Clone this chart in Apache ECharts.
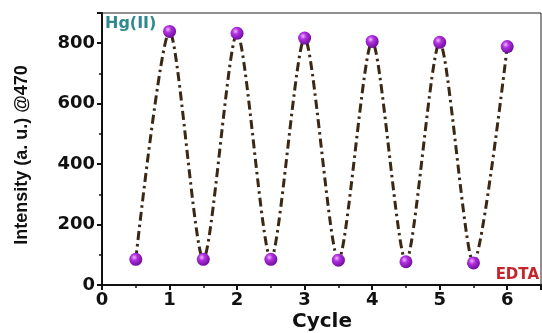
<!DOCTYPE html>
<html>
<head>
<meta charset="utf-8">
<script src="https://cdn.jsdelivr.net/npm/echarts@6/dist/echarts.min.js"></script>
<style>
html,body{margin:0;padding:0;background:#fff;}
#c{width:542px;height:333px;}
</style>
</head>
<body>
<div id="c"></div>
<script>
var cycles = [0.5, 1, 1.5, 2, 2.5, 3, 3.5, 4, 4.5, 5, 5.5, 6];
var intensity = [85, 839, 85, 833, 85, 817, 82, 806, 77, 803, 73, 789];
var xTicks = [0, 1, 2, 3, 4, 5, 6];
var yTicks = [0, 200, 400, 600, 800];
var xTitle = 'Cycle';
var yTitle = 'Intensity (a. u.) @470';
var labelHg = 'Hg(II)';
var labelEDTA = 'EDTA';

var chart = echarts.init(document.getElementById('c'), null, {renderer: 'canvas'});
var pts = cycles.map(function (c, i) { return [c, intensity[i]]; });
var tickFont = {fontFamily: 'DejaVu Sans', fontWeight: 'bold', fontSize: 18, color: '#111'};

chart.setOption({
  backgroundColor: '#fff',
  animation: false,
  grid: {left: 102, right: 1, top: 13, bottom: 48, show: true, borderColor: '#222', borderWidth: 1, backgroundColor: 'transparent'},
  xAxis: {
    type: 'value', min: 0, max: 6.5, interval: 1,
    axisLine: {show: true, onZero: false, lineStyle: {color: '#111', width: 2}},
    axisTick: {show: true, inside: false, length: 5, lineStyle: {color: '#111', width: 2}},
    minorTick: {show: true, splitNumber: 2, length: 3, lineStyle: {color: '#111', width: 1.5}},
    splitLine: {show: false},
    axisLabel: Object.assign({margin: 6, showMaxLabel: false, formatter: function (v) { return xTicks.indexOf(v) >= 0 ? String(v) : ''; }}, tickFont)
  },
  yAxis: {
    type: 'value', min: 0, max: 900, interval: 200,
    axisLine: {show: true, onZero: false, lineStyle: {color: '#111', width: 2}},
    axisTick: {show: true, inside: false, length: 5, lineStyle: {color: '#111', width: 2}},
    minorTick: {show: true, splitNumber: 2, length: 3, lineStyle: {color: '#111', width: 1.5}},
    splitLine: {show: false},
    axisLabel: Object.assign({margin: 7, showMaxLabel: false, formatter: function (v) { return yTicks.indexOf(v) >= 0 ? String(v) : ''; }}, tickFont)
  },
  series: [{
    type: 'line',
    data: pts,
    smooth: 0.25,
    symbol: 'circle',
    symbolSize: 13,
    lineStyle: {color: '#3a2714', width: 3, type: [9, 4, 2.5, 4]},
    itemStyle: {
      color: new echarts.graphic.RadialGradient(0.38, 0.35, 0.7, [
        {offset: 0, color: '#f2b8ff'},
        {offset: 0.35, color: '#b030e0'},
        {offset: 1, color: '#6a0a96'}
      ]),
      borderWidth: 0
    },
    z: 3
  }],
  graphic: [
    {type: 'text', left: 105, top: 16, style: {text: labelHg, fill: '#2f8a8e', font: 'bold 16px "DejaVu Sans"'}},
    {type: 'text', right: 3, top: 268, style: {text: labelEDTA, fill: '#c4262e', font: 'bold 15px "DejaVu Sans"'}},
    {type: 'text', x: 322, y: 322, style: {text: xTitle, fill: '#111', font: 'bold 20px "DejaVu Sans"', textAlign: 'center', textVerticalAlign: 'middle'}},
    {type: 'text', x: 22, y: 155, rotation: Math.PI / 2, style: {text: yTitle, fill: '#111', font: 'bold 18px "Liberation Sans"', textAlign: 'center', textVerticalAlign: 'middle'}}
  ]
});
</script>
</body>
</html>
